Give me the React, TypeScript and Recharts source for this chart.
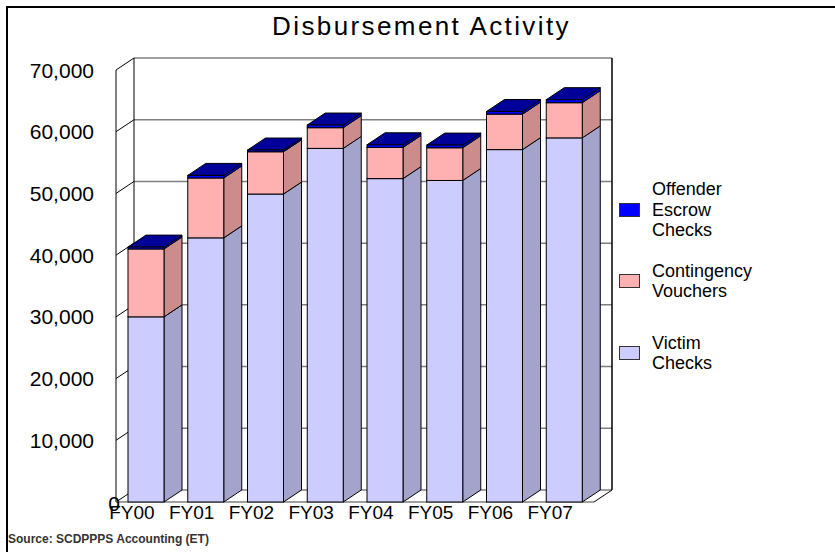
import React from 'react';
import { BarChart, Bar, XAxis, YAxis, CartesianGrid, Legend } from 'recharts';

const categories = ['FY00', 'FY01', 'FY02', 'FY03', 'FY04', 'FY05', 'FY06', 'FY07'];
const victimChecks = [30000, 42800, 49900, 57300, 52400, 52100, 57100, 59000];
const contingencyVouchers = [11000, 9700, 6850, 3350, 5050, 5300, 5750, 5700];
const offenderEscrowChecks = [300, 420, 280, 430, 430, 430, 430, 490];
const yTicks = [0, 10000, 20000, 30000, 40000, 50000, 60000, 70000];
const seriesNames = ['Victim Checks', 'Contingency Vouchers', 'Offender Escrow Checks'];
const titleText = 'Disbursement Activity';
const sourceText = 'Source: SCDPPPS Accounting (ET)';

const data = categories.map((fy, i) => ({
  fy,
  victim: victimChecks[i],
  contingency: contingencyVouchers[i],
  escrow: offenderEscrowChecks[i],
}));

// layout constants
const W = 835;
const H = 552;
const DX = 18;
const DY = -12;
const PLOT_LEFT = 116;
const PLOT_RIGHT = 594;
const FONT = '"Liberation Sans", Arial, Helvetica, sans-serif';

const COLORS = {
  victim: { front: '#CCCCFF', side: '#A3A3CC', top: '#B8B8E6' },
  contingency: { front: '#FFB0B0', side: '#CC8C8C', top: '#E69E9E' },
  escrow: { front: '#0000FF', side: '#0000CC', top: '#000099' },
};

const make3DShape = (c: { front: string; side: string; top: string }, drawTop: boolean) => (props: any) => {
  const { x, y, width, height } = props;
  if (height == null || height <= 0 || width == null) return <g />;
  const side = `M${x + width},${y} L${x + width + DX},${y + DY} L${x + width + DX},${y + height + DY} L${x + width},${y + height} Z`;
  const top = `M${x},${y} L${x + DX},${y + DY} L${x + width + DX},${y + DY} L${x + width},${y} Z`;
  return (
    <g>
      <path d={side} fill={c.side} stroke="#000" strokeWidth={1} strokeLinejoin="round" />
      {drawTop && <path d={top} fill={c.top} stroke="#000" strokeWidth={1} strokeLinejoin="round" />}
      <rect x={x} y={y} width={width} height={height} fill={c.front} stroke="#000" strokeWidth={1} />
    </g>
  );
};

const horizontalWall = (props: any) => {
  const { x1, y1, x2, y2 } = props;
  return (
    <g key={`hw-${y1}`}>
      <line x1={x1} y1={y1} x2={x1 + DX} y2={y1 + DY} stroke="#000" strokeWidth={1} />
      <line x1={x1 + DX} y1={y1 + DY} x2={x2 + DX} y2={y2 + DY} stroke="#808080" strokeWidth={1.5} />
    </g>
  );
};

const verticalWall = (props: any) => {
  const { x1, y1, y2 } = props;
  if (x1 < (PLOT_LEFT + PLOT_RIGHT) / 2) {
    return (
      <g key={`vw-${x1}`}>
        <line x1={x1} y1={y1} x2={x1} y2={y2} stroke="#000" strokeWidth={1} />
        <line x1={x1 + DX} y1={y1 + DY} x2={x1 + DX} y2={y2 + DY} stroke="#000" strokeWidth={1} />
      </g>
    );
  }
  return (
    <g key={`vw-${x1}`}>
      <line x1={PLOT_LEFT} y1={y2} x2={x1} y2={y2} stroke="#808080" strokeWidth={1.5} />
      <line x1={x1} y1={y2} x2={x1 + DX} y2={y2 + DY} stroke="#000" strokeWidth={1} />
      <line x1={x1 + DX} y1={y1 + DY} x2={x1 + DX} y2={y2 + DY} stroke="#000" strokeWidth={1.5} />
    </g>
  );
};

const YTick = (props: any) => {
  const { x, y, payload } = props;
  const isZero = payload.value === 0;
  return (
    <text
      x={isZero ? x + 4 : x - 22}
      y={isZero ? y + 1 : y}
      textAnchor="end"
      dominantBaseline="central"
      fontFamily={FONT}
      fontSize={21}
      fill="#000"
    >
      {payload.value.toLocaleString('en-US')}
    </text>
  );
};

const XTick = (props: any) => {
  const { x, y, payload } = props;
  return (
    <text x={x - 14} y={y + 10} textAnchor="middle" dominantBaseline="central" fontFamily={FONT} fontSize={19} fill="#000">
      {payload.value}
    </text>
  );
};

const legendItems = [
  { name: seriesNames[2], color: COLORS.escrow.front, gap: 0 },
  { name: seriesNames[1], color: COLORS.contingency.front, gap: 20 },
  { name: seriesNames[0], color: COLORS.victim.front, gap: 31 },
];

const LINE_H = 20.5;

const LegendBox = () => (
  <div style={{ fontFamily: FONT, fontSize: 18, color: '#000' }}>
    {legendItems.map((it) => {
      const lines = it.name.split(' ');
      const h = lines.length * LINE_H;
      return (
        <div key={it.name} style={{ position: 'relative', height: h, marginTop: it.gap }}>
          <div
            style={{
              position: 'absolute',
              left: 0,
              top: (h - 14) / 2,
              width: 19,
              height: 12,
              background: it.color,
              border: '1px solid #333',
            }}
          />
          <div style={{ position: 'absolute', left: 33, top: 0, lineHeight: `${LINE_H}px`, whiteSpace: 'nowrap' }}>
            {lines.map((l) => (
              <div key={l}>{l}</div>
            ))}
          </div>
        </div>
      );
    })}
  </div>
);

export default function App() {
  return (
    <div style={{ position: 'absolute', left: 0, top: 0, width: W, height: H, background: '#fff', overflow: 'hidden' }}>
      <div
        style={{
          position: 'absolute',
          left: 6,
          top: 6,
          width: W,
          height: H,
          borderLeft: '2px solid #000',
          borderTop: '2px solid #000',
        }}
      />
      <div
        style={{
          position: 'absolute',
          left: 0,
          top: 11,
          width: 843,
          textAlign: 'center',
          fontFamily: FONT,
          fontSize: 26,
          letterSpacing: 2.4,
          color: '#000',
        }}
      >
        {titleText}
      </div>
      <BarChart
        width={W}
        height={H}
        data={data}
        margin={{ top: 70, right: W - PLOT_RIGHT, left: PLOT_LEFT - 100, bottom: 0 }}
        barSize={36}
      >
        <CartesianGrid
          horizontal={horizontalWall}
          vertical={verticalWall}
          verticalPoints={[PLOT_LEFT, PLOT_RIGHT]}
          fill="none"
        />
        <XAxis
          dataKey="fy"
          axisLine={false}
          tickLine={false}
          tickSize={0}
          tickMargin={0}
          height={50}
          interval={0}
          tick={<XTick />}
        />
        <YAxis
          type="number"
          domain={[0, 70000]}
          ticks={yTicks}
          interval={0}
          axisLine={false}
          tickLine={false}
          tickSize={0}
          tickMargin={0}
          width={100}
          tick={<YTick />}
        />
        <Legend
          layout="vertical"
          align="center"
          verticalAlign="middle"
          wrapperStyle={{ left: 619, top: 179, width: 200 }}
          content={() => <LegendBox />}
        />
        <Bar dataKey="victim" name={seriesNames[0]} stackId="s" fill={COLORS.victim.front} isAnimationActive={false} shape={make3DShape(COLORS.victim, false)} />
        <Bar dataKey="contingency" name={seriesNames[1]} stackId="s" fill={COLORS.contingency.front} isAnimationActive={false} shape={make3DShape(COLORS.contingency, false)} />
        <Bar dataKey="escrow" name={seriesNames[2]} stackId="s" fill={COLORS.escrow.front} isAnimationActive={false} shape={make3DShape(COLORS.escrow, true)} />
      </BarChart>
      <div
        style={{
          position: 'absolute',
          left: 8,
          top: 532,
          fontFamily: FONT,
          fontSize: 12,
          fontWeight: 'bold',
          color: '#333',
          whiteSpace: 'nowrap',
        }}
      >
        {sourceText}
      </div>
    </div>
  );
}
